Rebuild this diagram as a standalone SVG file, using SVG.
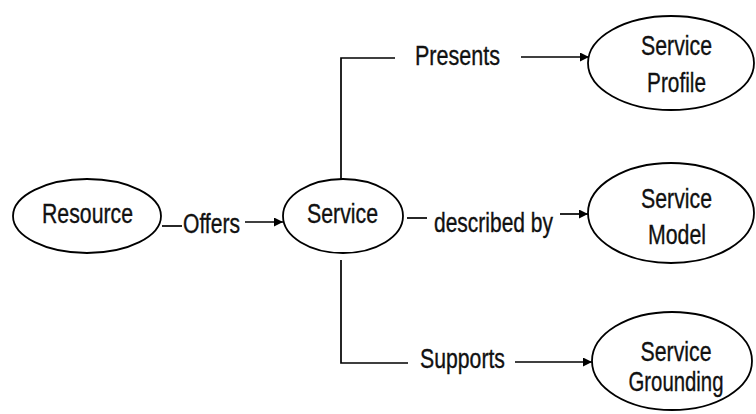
<svg xmlns="http://www.w3.org/2000/svg" width="756" height="414" viewBox="0 0 756 414">
  <style>
    .node ellipse { fill: #ffffff; stroke: #000000; stroke-width: 1.8; }
    .lbl { font-family: "Liberation Sans", Arial, sans-serif; font-size: 27px; fill: #111111; stroke: #111111; stroke-width: 0.35; text-anchor: middle; }
    .big { font-size: 28.5px; }
    .edge { fill: none; stroke: #000000; stroke-width: 1.7; }
  </style>
  <defs>
    <marker id="arrow" viewBox="0 0 10 10" refX="10" refY="5" markerWidth="11" markerHeight="9" markerUnits="userSpaceOnUse" orient="auto">
      <path d="M0,0 L10,5 L0,10 Z" fill="#000000"/>
    </marker>
  </defs>
  <rect width="756" height="414" fill="#ffffff"/>

  <g id="connectors">
    <!-- Resource offers Service -->
    <line class="edge" x1="162" y1="226" x2="182" y2="226"/>
    <text class="lbl" x="211.5" y="233" textLength="57" lengthAdjust="spacingAndGlyphs">Offers</text>
    <line class="edge" x1="245" y1="222" x2="283" y2="222" marker-end="url(#arrow)"/>

    <!-- Service presents Service Profile -->
    <polyline class="edge" points="341,180 341,58 395,58"/>
    <text class="lbl" x="457.5" y="65" textLength="85" lengthAdjust="spacingAndGlyphs">Presents</text>
    <line class="edge" x1="521" y1="57" x2="589" y2="57" marker-end="url(#arrow)"/>

    <!-- Service described by Service Model -->
    <line class="edge" x1="407" y1="218" x2="427" y2="218"/>
    <text class="lbl" x="493.5" y="232" textLength="119" lengthAdjust="spacingAndGlyphs">described by</text>
    <line class="edge" x1="560" y1="214" x2="588" y2="214" marker-end="url(#arrow)"/>

    <!-- Service supports Service Grounding -->
    <polyline class="edge" points="341,260 341,363 408,363"/>
    <text class="lbl" x="462.5" y="368" textLength="85" lengthAdjust="spacingAndGlyphs">Supports</text>
    <line class="edge" x1="515" y1="362" x2="592" y2="362" marker-end="url(#arrow)"/>
  </g>

  <g id="resource" class="node">
    <ellipse cx="87" cy="216" rx="74" ry="37"/>
    <text class="lbl" x="87.5" y="223" textLength="91" lengthAdjust="spacingAndGlyphs">Resource</text>
  </g>

  <g id="service" class="node">
    <ellipse cx="343" cy="216" rx="60" ry="37"/>
    <text class="lbl" x="342.5" y="223" textLength="71" lengthAdjust="spacingAndGlyphs">Service</text>
  </g>

  <g id="service-profile" class="node">
    <ellipse cx="671" cy="63" rx="83" ry="47"/>
    <text class="lbl big" x="676.5" y="55" textLength="71" lengthAdjust="spacingAndGlyphs">Service</text>
    <text class="lbl big" x="676.5" y="92" textLength="59" lengthAdjust="spacingAndGlyphs">Profile</text>
  </g>

  <g id="service-model" class="node">
    <ellipse cx="671" cy="213" rx="83" ry="50"/>
    <text class="lbl big" x="676.5" y="208" textLength="71" lengthAdjust="spacingAndGlyphs">Service</text>
    <text class="lbl big" x="677" y="244" textLength="58" lengthAdjust="spacingAndGlyphs">Model</text>
  </g>

  <g id="service-grounding" class="node">
    <ellipse cx="672" cy="361" rx="80" ry="49"/>
    <text class="lbl big" x="676" y="361" textLength="71" lengthAdjust="spacingAndGlyphs">Service</text>
    <text class="lbl big" x="676" y="391" textLength="95" lengthAdjust="spacingAndGlyphs">Grounding</text>
  </g>
</svg>
